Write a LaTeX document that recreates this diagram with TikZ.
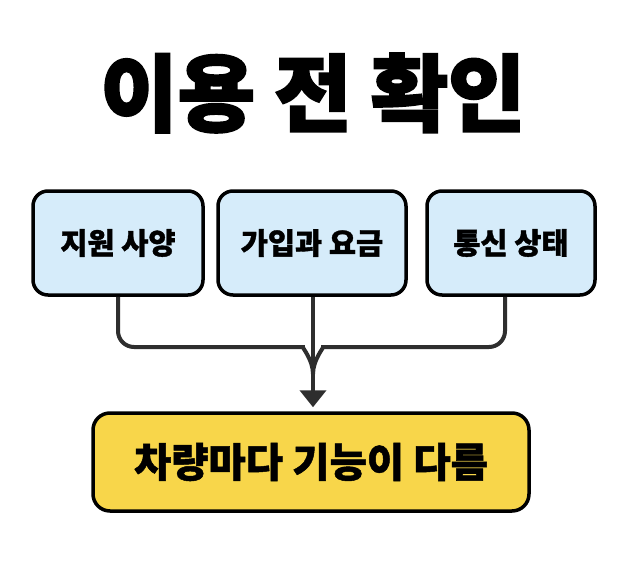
\documentclass[tikz,border=0pt]{standalone}
\usepackage{fontspec}
\newfontfamily\kr{Noto Sans CJK KR}
\newfontfamily\krheavy{Noto Sans CJK KR}[BoldFeatures={FakeBold=2.5}]
\newfontfamily\krlabel{Noto Sans CJK KR}[BoldFeatures={FakeBold=1.2}]
\usetikzlibrary{arrows.meta}

\definecolor{boxblue}{HTML}{D6ECFA}
\definecolor{boxyellow}{HTML}{F8D64A}
\definecolor{linegray}{HTML}{2E2E2E}

\tikzset{
  topic/.style={draw=black, line width=3.5pt, rounded corners=15pt, fill=boxblue,
    minimum height=104pt, inner sep=0pt, font=\krlabel\bfseries\fontsize{29.5}{31}\selectfont},
  result/.style={draw=black, line width=3.5pt, rounded corners=17pt, fill=boxyellow,
    minimum width=436pt, minimum height=98pt, inner sep=0pt, font=\krlabel\bfseries\fontsize{40.5}{43}\selectfont},
  conn/.style={draw=linegray, line width=4pt}
}

\begin{document}
\begin{tikzpicture}[x=1pt, y=-1pt]

\useasboundingbox[fill=white] (0,0) rectangle (627,581);

\node[font=\krheavy\bfseries\fontsize{84}{88}\selectfont] (title) at (313,93) {이용 전 확인};

\node[topic, minimum width=170pt] (spec) at (118,243) {지원 사양};
\node[topic, minimum width=188pt] (plan) at (312,243) {가입과 요금};
\node[topic, minimum width=168pt] (net) at (511,243) {통신 상태};

\node[result] (diff) at (311,462) {차량마다 기능이 다름};

% merge points
\coordinate (lbend) at (287,347);
\coordinate (rbend) at (339,347);
\coordinate (merge) at (313,374);

\draw[conn, rounded corners=16pt] (spec.south) |- (lbend) to[out=0, in=90] (merge);
\draw[conn, rounded corners=16pt] (net.south -| 505,0) |- (rbend) to[out=180, in=90] (merge);
\draw[conn, -{Triangle[width=26pt, length=17pt]}, shorten >=4pt] (plan.south -| merge) -- (diff.north -| merge);

\end{tikzpicture}
\end{document}
